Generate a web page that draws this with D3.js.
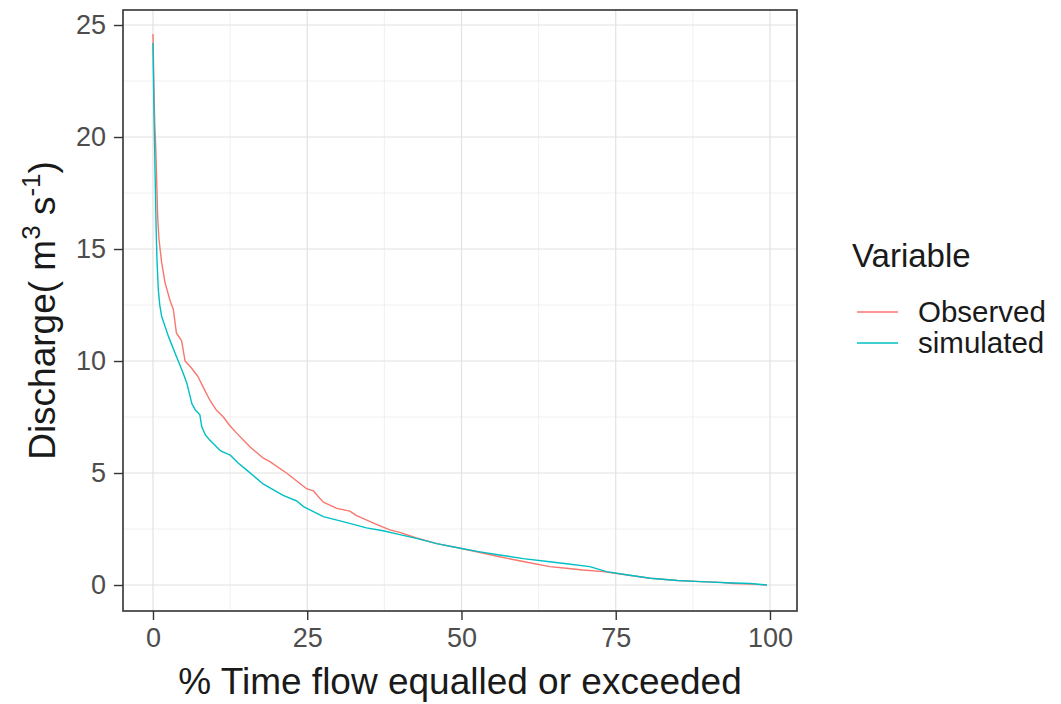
<!DOCTYPE html>
<html>
<head>
<meta charset="utf-8">
<script src="https://cdn.jsdelivr.net/npm/d3@7"></script>
<style>
  html, body { margin: 0; padding: 0; background: #ffffff; }
  svg { display: block; font-family: "Liberation Sans", Arial, sans-serif; }
</style>
</head>
<body>
<svg id="chart" width="1061" height="704"></svg>
<script>
// Flow duration curves: % of time a discharge is equalled or exceeded
const observedPct = [0, 0.1, 0.2, 0.3, 0.45, 0.6, 0.75, 0.95, 1.4, 1.95, 2.76, 3.3, 3.8, 4.65, 5.2, 6.2, 7.3, 8.2, 9.2, 10.3, 11.4, 12.5, 13.6, 15.7, 17.9, 19.0, 21.7, 23.5, 24.9, 26.0, 27.6, 29.8, 31.9, 33.0, 36.3, 38.4, 40, 42.7, 46, 49.8, 53, 56.2, 60, 64.3, 67, 69.7, 73.0, 76, 80.6, 85, 88.7, 92, 94.1, 97, 99.5];
const observedQ   = [24.6, 23.0, 21.5, 20.5, 19.5, 18.0, 16.5, 15.5, 14.4, 13.5, 12.7, 12.3, 11.25, 10.9, 10.0, 9.7, 9.3, 8.8, 8.26, 7.8, 7.5, 7.1, 6.77, 6.17, 5.66, 5.5, 4.99, 4.6, 4.3, 4.2, 3.7, 3.42, 3.3, 3.1, 2.7, 2.46, 2.35, 2.1, 1.85, 1.64, 1.45, 1.26, 1.05, 0.82, 0.75, 0.67, 0.6, 0.48, 0.3, 0.2, 0.15, 0.12, 0.07, 0.04, 0.0];

const simulatedPct = [0, 0.1, 0.2, 0.3, 0.4, 0.5, 0.65, 0.86, 1.1, 1.4, 2.5, 3.8, 4.9, 5.5, 6.3, 6.9, 7.6, 7.9, 8.5, 9.2, 10.9, 12.5, 13.8, 15.2, 17.9, 21.1, 23.3, 24.4, 27.6, 30.8, 34.6, 37.3, 40, 42.7, 46, 49.8, 53, 56.2, 60, 64.3, 67, 70.8, 73.5, 77, 80.6, 85, 88.7, 93, 96.8, 99.5];
const simulatedQ   = [24.2, 22.2, 20.5, 19.0, 17.5, 16.0, 14.5, 13.2, 12.5, 12.0, 11.1, 10.2, 9.45, 9.0, 8.1, 7.8, 7.6, 7.07, 6.7, 6.47, 6.0, 5.8, 5.45, 5.13, 4.5, 4.0, 3.75, 3.5, 3.05, 2.83, 2.55, 2.42, 2.25, 2.08, 1.85, 1.64, 1.48, 1.34, 1.18, 1.04, 0.95, 0.82, 0.6, 0.45, 0.3, 0.2, 0.15, 0.1, 0.07, 0.0];

const seriesNames  = ["Observed", "simulated"];
const seriesColors = ["#F8766D", "#00BFC4"];
const xTicks = [0, 25, 50, 75, 100];
const yTicks = [0, 5, 10, 15, 20, 25];
const xMinor = [12.5, 37.5, 62.5, 87.5];
const yMinor = [2.5, 7.5, 12.5, 17.5, 22.5];

const series = [
  { name: seriesNames[0], color: seriesColors[0], pts: observedPct.map((p, i) => [p, observedQ[i]]) },
  { name: seriesNames[1], color: seriesColors[1], pts: simulatedPct.map((p, i) => [p, simulatedQ[i]]) }
];

const panel = { left: 123, right: 797, top: 10, bottom: 611 };
const x = d3.scaleLinear().domain([-4.86, 104.38]).range([panel.left, panel.right]);
const y = d3.scaleLinear().domain([-1.16, 25.67]).range([panel.bottom, panel.top]);

const svg = d3.select("#chart");

// grid
const grid = svg.append("g");
grid.selectAll(".vminor").data(xMinor).join("line")
  .attr("x1", d => x(d)).attr("x2", d => x(d))
  .attr("y1", panel.top).attr("y2", panel.bottom)
  .attr("stroke", "#ececec").attr("stroke-width", 0.8);
grid.selectAll(".hminor").data(yMinor).join("line")
  .attr("y1", d => y(d)).attr("y2", d => y(d))
  .attr("x1", panel.left).attr("x2", panel.right)
  .attr("stroke", "#ececec").attr("stroke-width", 0.8);
grid.selectAll(".vmajor").data(xTicks).join("line")
  .attr("x1", d => x(d)).attr("x2", d => x(d))
  .attr("y1", panel.top).attr("y2", panel.bottom)
  .attr("stroke", "#e2e2e2").attr("stroke-width", 1.2);
grid.selectAll(".hmajor").data(yTicks).join("line")
  .attr("y1", d => y(d)).attr("y2", d => y(d))
  .attr("x1", panel.left).attr("x2", panel.right)
  .attr("stroke", "#e2e2e2").attr("stroke-width", 1.2);

// curves
const line = d3.line().x(d => x(d[0])).y(d => y(d[1])).curve(d3.curveLinear);
svg.append("g").selectAll("path").data(series).join("path")
  .attr("d", d => line(d.pts))
  .attr("fill", "none")
  .attr("stroke", d => d.color)
  .attr("stroke-width", 1.4)
  .attr("stroke-linejoin", "round");

// panel border
svg.append("rect")
  .attr("x", panel.left).attr("y", panel.top)
  .attr("width", panel.right - panel.left).attr("height", panel.bottom - panel.top)
  .attr("fill", "none").attr("stroke", "#333333").attr("stroke-width", 1.6);

// axes
const xAxis = svg.append("g").attr("transform", `translate(0,${panel.bottom})`)
  .call(d3.axisBottom(x).tickValues(xTicks).tickSize(9).tickPadding(8).tickFormat(d3.format("d")));
const yAxis = svg.append("g").attr("transform", `translate(${panel.left},0)`)
  .call(d3.axisLeft(y).tickValues(yTicks).tickSize(9).tickPadding(8).tickFormat(d3.format("d")));
[xAxis, yAxis].forEach(a => {
  a.select(".domain").remove();
  a.selectAll(".tick line").attr("stroke", "#333333").attr("stroke-width", 1.4);
  a.selectAll(".tick text").attr("fill", "#4d4d4d").style("font-size", "27px")
    .style("font-family", "'Liberation Sans', Arial, sans-serif");
});

// axis titles
svg.append("text")
  .attr("x", 460).attr("y", 694)
  .attr("text-anchor", "middle").attr("fill", "#1a1a1a")
  .style("font-size", "37px")
  .text("% Time flow equalled or exceeded");

const yt = svg.append("text")
  .attr("transform", `translate(55,${(panel.top + panel.bottom) / 2}) rotate(-90)`)
  .attr("text-anchor", "middle").attr("fill", "#1a1a1a")
  .style("font-size", "37px");
yt.append("tspan").text("Discharge( m");
yt.append("tspan").attr("dy", -15).style("font-size", "26px").text("3");
yt.append("tspan").attr("dy", 15).text(" s");
yt.append("tspan").attr("dy", -15).style("font-size", "26px").text("-1");
yt.append("tspan").attr("dy", 15).text(")");

// legend
const legend = svg.append("g").attr("transform", "translate(852,0)");
legend.append("text").attr("x", 0).attr("y", 267)
  .attr("fill", "#1a1a1a").style("font-size", "33px").text("Variable");
const items = legend.selectAll(".item").data(series).join("g")
  .attr("transform", (d, i) => `translate(0,${312 + i * 31})`);
items.append("line").attr("x1", 5).attr("x2", 46).attr("y1", 0).attr("y2", 0)
  .attr("stroke", d => d.color).attr("stroke-width", 1.4);
items.append("text").attr("x", 66).attr("y", 10)
  .attr("fill", "#1a1a1a").style("font-size", "29.5px").text(d => d.name);
</script>
</body>
</html>
